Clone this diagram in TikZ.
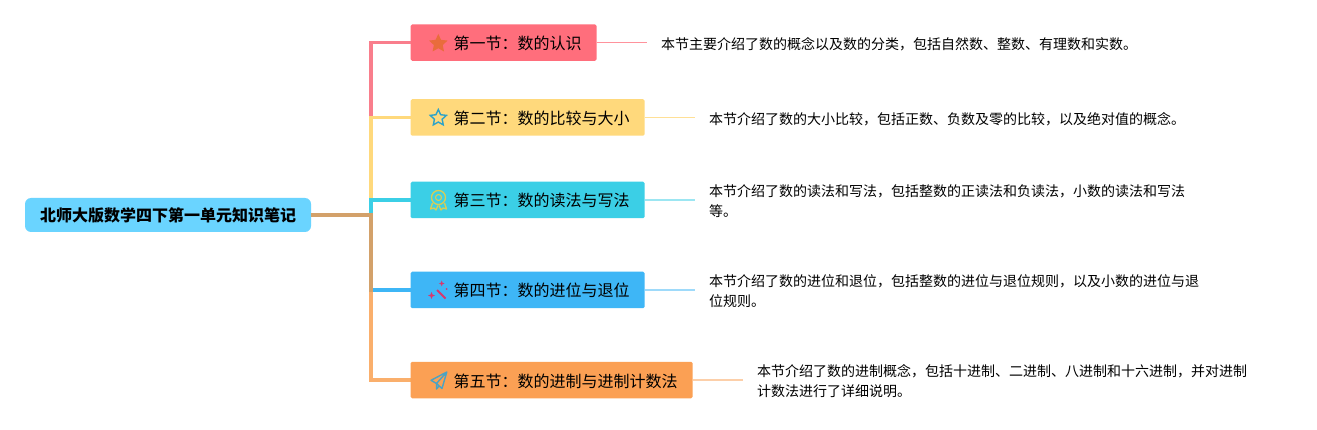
\documentclass[tikz,border=0pt]{standalone}
\usepackage{fontspec}
\usetikzlibrary{shapes.geometric}
\setmainfont{Noto Sans CJK SC}
\definecolor{cRoot}{HTML}{6AD4FF}
\definecolor{cA}{HTML}{FF6E7C}
\definecolor{cB}{HTML}{FFD97C}
\definecolor{cC}{HTML}{3BCFE6}
\definecolor{cD}{HTML}{3EB6F6}
\definecolor{cE}{HTML}{FBA054}
\definecolor{lA}{HTML}{F97E8C}
\definecolor{lE}{HTML}{F99C48}
\definecolor{cS}{HTML}{E96C3C}
\definecolor{cT}{HTML}{2FA3C8}
\definecolor{cM}{HTML}{D8CE55}
\definecolor{cW}{HTML}{D8386E}
\definecolor{cP}{HTML}{4BA3C4}
\tikzset{
  x=1pt,y=-1pt,
  rootbox/.style={fill=cRoot,rounded corners=6pt,inner sep=0pt,minimum width=286pt,minimum height=34pt,text height=15pt,text depth=1pt,font=\fontsize{16pt}{18pt}\selectfont\bfseries},
  secbox/.style={anchor=west,rounded corners=1.5pt,inner sep=0pt,minimum height=36.5pt,text height=15pt,text depth=1pt,font=\fontsize{16pt}{18pt}\selectfont},
  desc/.style={anchor=west,inner sep=0pt,align=left,font=\fontsize{14pt}{20.4pt}\selectfont},
  trunk/.style={line width=3.2pt},
  twig/.style={line width=1.3pt,opacity=.5},
}
\newcommand{\sectext}[1]{\hspace*{42.8pt}#1\hspace*{15pt}}
\begin{document}
\begin{tikzpicture}
\useasboundingbox (0,0) rectangle (1317,430);
\fill[white] (0,0) rectangle (1317,430);
\node[rootbox] (root) at (168,215) {北师大版数学四下第一单元知识笔记};
\node[secbox,fill=cA] (s1) at (410.5,42.7) {\sectext{第一节：数的认识}};
\node[secbox,fill=cB] (s2) at (410.5,117.5) {\sectext{第二节：数的比较与大小}};
\node[secbox,fill=cC] (s3) at (410.5,200) {\sectext{第三节：数的读法与写法}};
\node[secbox,fill=cD] (s4) at (410.5,290) {\sectext{第四节：数的进位与退位}};
\node[secbox,fill=cE] (s5) at (410.5,380) {\sectext{第五节：数的进制与进制计数法}};
\node[desc] (d1) at (661,44.5) {本节主要介绍了数的概念以及数的分类，包括自然数、整数、有理数和实数。};
\node[desc] (d2) at (709,119.5) {本节介绍了数的大小比较，包括正数、负数及零的比较，以及绝对值的概念。};
\node[desc] (d3) at (709,201.3) {本节介绍了数的读法和写法，包括整数的正读法和负读法，小数的读法和写法\\等。};
\node[desc] (d4) at (709,291.3) {本节介绍了数的进位和退位，包括整数的进位与退位规则，以及小数的进位与退\\位规则。};
\node[desc] (d5) at (757,381.3) {本节介绍了数的进制概念，包括十进制、二进制、八进制和十六进制，并对进制\\计数法进行了详细说明。};
\coordinate (fork) at (371,215);
\draw[trunk,lA] (root.east) -- (fork) |- (s1.west);
\draw[trunk,cB] (root.east) -- (fork) |- (s2.west);
\draw[trunk,cC] (root.east) -- (fork) |- (s3.west);
\draw[trunk,cD] (root.east) -- (fork) |- (s4.west);
\draw[trunk,lE,opacity=.8] (root.east) -- (fork) |- (s5.west);
\draw[twig,cA,opacity=.75,line width=1pt] (s1.east) -- ([xshift=-14pt]d1.west |- s1.east);
\draw[twig,cB,opacity=.8,line width=1pt] (s2.east) -- ([xshift=-14pt]d2.west |- s2.east);
\draw[twig,cC] (s3.east) -- ([xshift=-14pt]d3.west |- s3.east);
\draw[twig,cD] (s4.east) -- ([xshift=-14pt]d4.west |- s4.east);
\draw[twig,cE] (s5.east) -- ([xshift=-14pt]d5.west |- s5.east);
% icons
\node[star,star points=5,star point ratio=2.1,fill=cS,inner sep=0pt,minimum size=19.5pt] (i1) at (438.3,43.6) {};
\node[star,star points=5,star point ratio=2.1,draw=cT,line width=1.4pt,inner sep=0pt,minimum size=17pt] (i2) at (438.3,118) {};
\draw[cM,line width=1.3pt] (438.5,197.5) circle (7);
\draw[cM,line width=1.1pt] (438.5,197.5) circle (3);
\draw[cM,line width=1.3pt,line join=round] (432.5,203) -- (430.5,209) -- (434,208) -- (436,210) -- (438,205.5);
\draw[cM,line width=1.3pt,line join=round] (444.5,203) -- (446.5,209) -- (443,208) -- (441,210) -- (439,205.5);
\draw[cW,line width=2pt] (437,290) -- (445.5,298.5);
\fill[cW] (441.7,280.5) -- (442.5,282.7) -- (444.5,283.5) -- (442.5,284.3) -- (441.7,286.5) -- (440.9,284.3) -- (438.9,283.5) -- (440.9,282.7) -- cycle;
\fill[cW] (431.5,292) -- (432.5,294.5) -- (435,295.5) -- (432.5,296.5) -- (431.5,299) -- (430.5,296.5) -- (428,295.5) -- (430.5,294.5) -- cycle;
\fill[cW] (446.5,289) circle (1);
\draw[cP,line width=1.4pt,line join=round] (446.8,372) -- (431,380.3) -- (436.5,383.5) -- (446.8,372) -- (442,388.5) -- (436.5,383.5) -- (436.5,389) -- (439,386);
\end{tikzpicture}
\end{document}
